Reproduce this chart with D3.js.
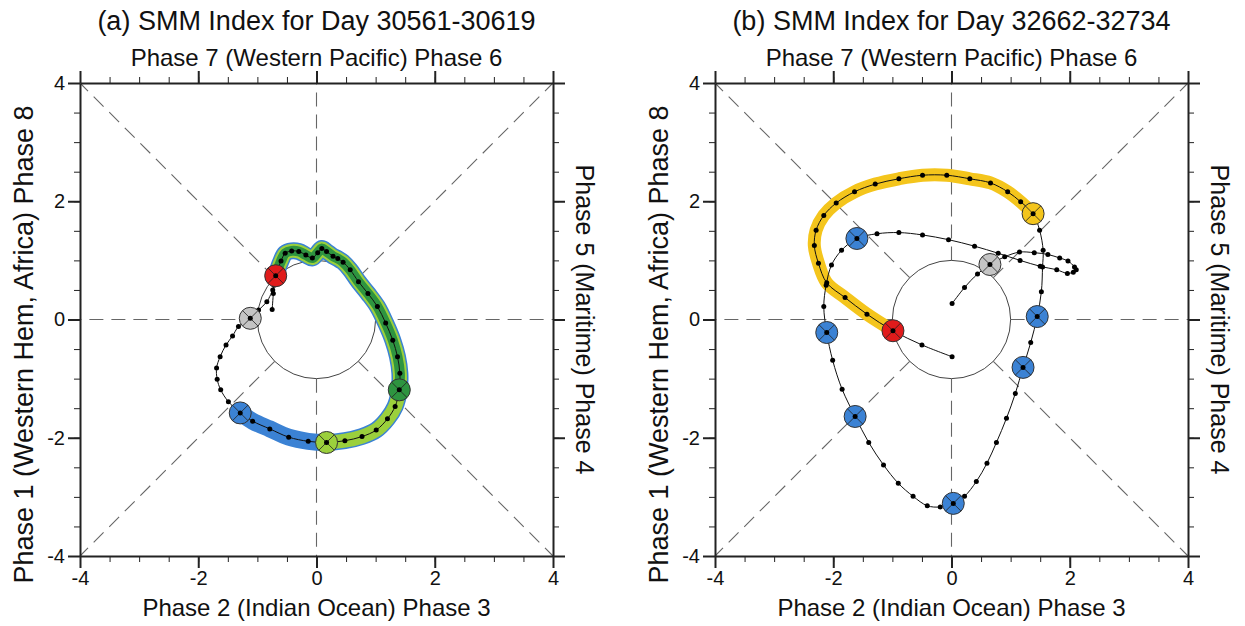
<!DOCTYPE html>
<html>
<head>
<meta charset="utf-8">
<script src="https://cdnjs.cloudflare.com/ajax/libs/d3/7.8.5/d3.min.js"></script>
<style>
  body { margin: 0; background: #fff; }
  svg text { font-family: "Liberation Sans", Arial, Helvetica, sans-serif; fill: #111; }
</style>
</head>
<body>
<svg id="chart"></svg>
<script>
// ---- data (RMM-style phase space, x = RMM1, y = RMM2) ----
var titlesTop = ["(a) SMM Index for Day 30561-30619", "(b) SMM Index for Day 32662-32734"];
var labelTop = "Phase 7 (Western Pacific) Phase 6";
var labelBottom = "Phase 2 (Indian Ocean) Phase 3";
var labelLeft = "Phase 1 (Western Hem, Africa) Phase 8";
var labelRight = "Phase 5 (Maritime) Phase 4";
var majorTicks = [-4, -2, 0, 2, 4];

// panel (a), one point per day
var aX = [-0.74,-0.84,-0.98,-1.12,-1.32,-1.42,-1.53,-1.63,-1.69,-1.68,-1.62,-1.49,-1.29,-1.08,-0.79,-0.47,-0.14,0.17,0.48,0.77,1.01,1.20,1.33,1.40,1.41,1.37,1.29,1.17,1.03,0.87,0.71,0.57,0.45,0.36,0.28,0.17,0.09,0.02,-0.07,-0.18,-0.30,-0.42,-0.53,-0.60,-0.65,-0.69,-0.72,-0.73,-0.75];
var aY = [0.50,0.30,0.16,0.02,-0.12,-0.28,-0.43,-0.63,-0.82,-1.01,-1.19,-1.39,-1.58,-1.72,-1.85,-1.99,-2.06,-2.08,-2.05,-1.98,-1.87,-1.68,-1.47,-1.19,-0.91,-0.63,-0.35,-0.06,0.22,0.44,0.64,0.84,0.97,1.03,1.07,1.15,1.20,1.13,1.04,1.09,1.15,1.16,1.12,0.99,0.86,0.74,0.58,0.44,0.17];
var aMarks = [3, 12, 17, 23, 45];             // day index of circled points
var aMarkKind = ["gray", "blue", "lgreen", "dgreen", "red"];
var aBands = [12, 17, 23];                    // highlighted stretches, each runs to the red day
var aBandKind = ["blue", "lgreen", "dgreen"];
var aBandEnd = 45;

// panel (b)
var bX = [0.01,0.22,0.44,0.65,0.90,1.15,1.40,1.63,1.83,1.97,2.08,2.11,2.06,1.96,1.78,1.50,1.16,0.79,0.39,-0.05,-0.49,-0.89,-1.26,-1.60,-1.86,-2.03,-2.12,-2.16,-2.11,-2.01,-1.85,-1.63,-1.40,-1.15,-0.90,-0.65,-0.41,-0.19,0.03,0.22,0.42,0.60,0.76,0.93,1.08,1.21,1.34,1.45,1.52,1.54,1.55,1.49,1.38,1.17,0.95,0.66,0.31,-0.08,-0.49,-0.89,-1.29,-1.64,-1.95,-2.16,-2.29,-2.32,-2.25,-2.11,-1.80,-1.43,-0.99,-0.50,0.01];
var bY = [0.27,0.54,0.77,0.93,1.06,1.14,1.13,1.10,1.04,0.99,0.89,0.84,0.80,0.78,0.84,0.90,1.00,1.12,1.24,1.35,1.43,1.47,1.45,1.37,1.17,0.92,0.58,0.22,-0.22,-0.69,-1.18,-1.64,-2.08,-2.46,-2.77,-2.99,-3.15,-3.17,-3.11,-2.99,-2.74,-2.43,-2.08,-1.67,-1.25,-0.81,-0.39,0.05,0.47,0.89,1.17,1.51,1.79,1.99,2.16,2.31,2.38,2.44,2.44,2.38,2.29,2.16,1.97,1.76,1.51,1.25,0.95,0.62,0.37,0.09,-0.19,-0.43,-0.63];
var bMarks = [3, 23, 28, 31, 38, 45, 47, 52, 70];
var bMarkKind = ["gray", "blue", "blue", "blue", "blue", "blue", "blue", "yellow", "red"];
var bBands = [52];
var bBandKind = ["yellow"];
var bBandEnd = 70;

// ---- styling ----
var colors = {
  gray: "#c4c4c4", blue: "#3b82d4", lgreen: "#9bd03c", dgreen: "#2e9440",
  red: "#e01b1b", yellow: "#f4c51c"
};
var bandWidth = { blue: 17, lgreen: 14, dgreen: 10, yellow: 13 };

var W = 1245, H = 626;
var svg = d3.select("#chart").attr("width", W).attr("height", H);

var panels = [
  { left: 80, xs: aX, ys: aY, marks: aMarks, kinds: aMarkKind, bands: aBands, bandKinds: aBandKind, bandEnd: aBandEnd, title: titlesTop[0] },
  { left: 715, xs: bX, ys: bY, marks: bMarks, kinds: bMarkKind, bands: bBands, bandKinds: bBandKind, bandEnd: bBandEnd, title: titlesTop[1] }
];

var plotTop = 83, size = 473;

panels.forEach(function(p) {
  var x = d3.scaleLinear().domain([-4, 4]).range([p.left, p.left + size]);
  var y = d3.scaleLinear().domain([-4, 4]).range([plotTop + size, plotTop]);
  var cx = x(0);
  var g = svg.append("g");

  // dashed phase dividers, from the unit circle out to the frame
  var rays = [[1,0],[-1,0],[0,1],[0,-1],[1,1],[1,-1],[-1,1],[-1,-1]];
  rays.forEach(function(r) {
    var len = Math.sqrt(r[0]*r[0] + r[1]*r[1]);
    g.append("line")
      .attr("x1", x(r[0]/len)).attr("y1", y(r[1]/len))
      .attr("x2", x(r[0]*4)).attr("y2", y(r[1]*4))
      .attr("stroke", "#666").attr("stroke-width", 1.1)
      .attr("stroke-dasharray", "14,8");
  });
  g.append("circle")
    .attr("cx", cx).attr("cy", y(0)).attr("r", x(1) - x(0))
    .attr("fill", "none").attr("stroke", "#444").attr("stroke-width", 1);

  var pts = p.xs.map(function(v, i) { return [v, p.ys[i]]; });
  var line = d3.line()
    .x(function(d) { return x(d[0]); })
    .y(function(d) { return y(d[1]); })
    .curve(d3.curveCatmullRom.alpha(0.5));

  // highlighted stretches
  p.bands.forEach(function(start, k) {
    g.append("path")
      .attr("d", line(pts.slice(start, p.bandEnd + 1)))
      .attr("fill", "none")
      .attr("stroke", colors[p.bandKinds[k]])
      .attr("stroke-width", bandWidth[p.bandKinds[k]])
      .attr("stroke-linecap", "round")
      .attr("stroke-linejoin", "round");
  });

  g.append("path")
    .attr("d", line(pts))
    .attr("fill", "none").attr("stroke", "#111").attr("stroke-width", 1);

  g.selectAll("circle.day")
    .data(pts)
    .enter().append("circle")
    .attr("class", "day")
    .attr("cx", function(d) { return x(d[0]); })
    .attr("cy", function(d) { return y(d[1]); })
    .attr("r", 2.5)
    .attr("fill", "#000");

  // circled days
  p.marks.forEach(function(idx, k) {
    var mx = x(pts[idx][0]), my = y(pts[idx][1]);
    var r = 11, q = r * 0.707;
    var m = g.append("g");
    m.append("circle").attr("cx", mx).attr("cy", my).attr("r", r)
      .attr("fill", colors[p.kinds[k]]).attr("stroke", "#333").attr("stroke-width", 1);
    m.append("line").attr("x1", mx - q).attr("y1", my - q).attr("x2", mx + q).attr("y2", my + q)
      .attr("stroke", "#222").attr("stroke-opacity", 0.8);
    m.append("line").attr("x1", mx - q).attr("y1", my + q).attr("x2", mx + q).attr("y2", my - q)
      .attr("stroke", "#222").attr("stroke-opacity", 0.8);
    m.append("circle").attr("cx", mx).attr("cy", my).attr("r", 2.5).attr("fill", "#000");
  });

  // axes, ticks pointing outward on all four sides
  var minor = d3.range(-4, 4.01, 0.5);
  var fmt = function(d) { return String(d); };
  var sides = [
    { make: function() { return d3.axisBottom(x); }, tr: "translate(0," + (plotTop + size) + ")", lab: true },
    { make: function() { return d3.axisTop(x); }, tr: "translate(0," + plotTop + ")", lab: false },
    { make: function() { return d3.axisLeft(y); }, tr: "translate(" + p.left + ",0)", lab: true },
    { make: function() { return d3.axisRight(y); }, tr: "translate(" + (p.left + size) + ",0)", lab: false }
  ];
  sides.forEach(function(a) {
    svg.append("g").attr("transform", a.tr)
      .call(a.make().tickValues(minor).tickSize(6).tickSizeOuter(0).tickFormat(""))
      .call(function(s) { s.select(".domain").remove(); s.selectAll("line").attr("stroke", "#222").attr("stroke-width", 1); });
    svg.append("g").attr("transform", a.tr)
      .call(a.make().tickValues(majorTicks).tickSize(12).tickSizeOuter(0).tickPadding(3)
        .tickFormat(a.lab ? fmt : ""))
      .call(function(s) {
        s.select(".domain").attr("stroke", "#222").attr("stroke-width", 2);
        s.selectAll("line").attr("stroke", "#222").attr("stroke-width", 2);
        s.selectAll("text").style("font-size", "20px").attr("fill", "#111");
      });
  });

  // titles and phase labels
  svg.append("text").attr("x", cx).attr("y", 30).attr("text-anchor", "middle")
    .style("font-size", "27px").text(p.title);
  svg.append("text").attr("x", cx).attr("y", 66).attr("text-anchor", "middle")
    .style("font-size", "24px").text(labelTop);
  svg.append("text").attr("x", cx).attr("y", 616).attr("text-anchor", "middle")
    .style("font-size", "24px").text(labelBottom);
  svg.append("text").attr("transform", "translate(" + (p.left - 47) + "," + (y(0) + 25) + ") rotate(-90)")
    .attr("text-anchor", "middle").style("font-size", "27px").text(labelLeft);
  svg.append("text").attr("transform", "translate(" + (p.left + size + 23) + "," + y(0) + ") rotate(90)")
    .attr("text-anchor", "middle").style("font-size", "25px").text(labelRight);
});
</script>
</body>
</html>
